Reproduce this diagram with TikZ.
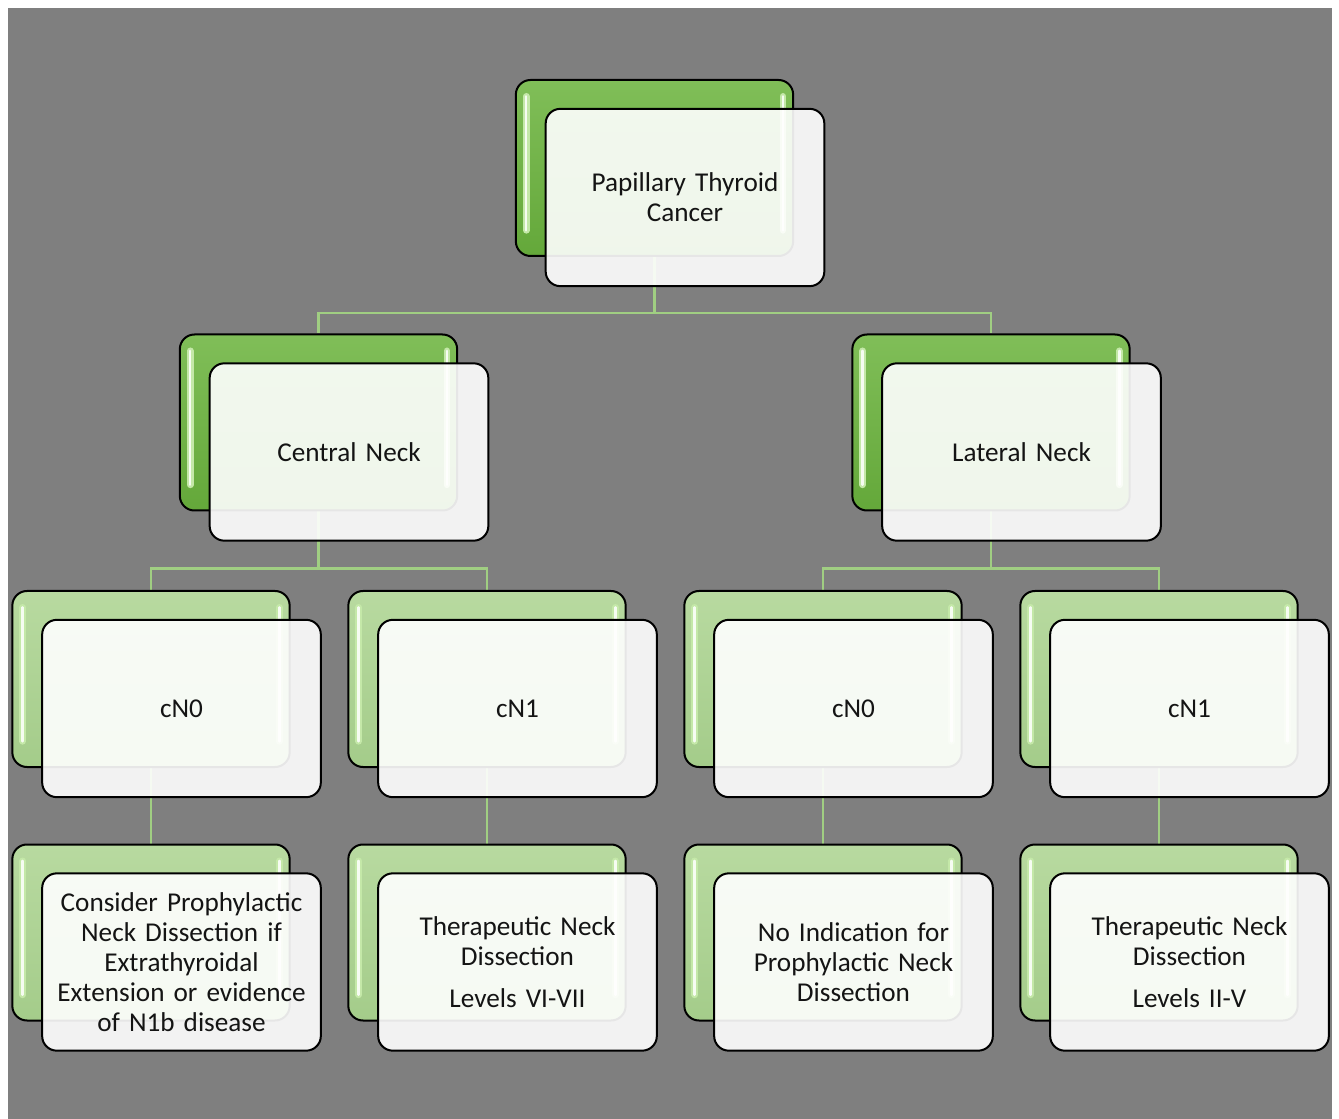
\documentclass[tikz,border=0pt]{standalone}
\usepackage{fontspec}
\setmainfont{Carlito}
\usetikzlibrary{calc}
\definecolor{bgray}{RGB}{127,127,127}
\definecolor{gdark}{RGB}{100,168,58}
\definecolor{gdarktop}{RGB}{128,190,88}
\definecolor{glight}{RGB}{164,204,138}
\definecolor{glighttop}{RGB}{184,218,160}
\definecolor{stripeA}{RGB}{196,232,168}
\definecolor{stripeB}{RGB}{214,238,200}
\definecolor{conn}{RGB}{160,206,130}
\definecolor{txt}{RGB}{20,20,20}
\pgfdeclarelayer{bgzero}
\pgfdeclarelayer{bgone}
\pgfsetlayers{bgzero,bgone,main}
\tikzset{
  backbox/.style={draw=black, line width=1.5pt, rounded corners=11pt,
    minimum width=208pt, minimum height=132pt, inner sep=0pt},
  backA/.style={backbox, top color=gdarktop, bottom color=gdark},
  backB/.style={backbox, top color=glighttop, bottom color=glight},
  stripe/.style={line width=5pt, line cap=round, draw=stripeA},
  stripecore/.style={line width=1.8pt, line cap=round, draw=white!85!stripeA},
  frontbox/.style={draw=black, line width=1.5pt, rounded corners=11pt,
    fill=white, fill opacity=0.9, text opacity=1,
    minimum width=209pt, minimum height=133pt, inner sep=2pt,
    text width=195pt, align=center, text=txt,
    font=\fontsize{20.4}{22.5}\selectfont},
  connector/.style={draw=conn, line width=1.6pt}
}
\newcommand\tcard[5]{%
  \node[#4] (#1b) at (#2,#3) {};
  \draw[stripe] ([xshift=8.5pt,yshift=-13pt]#1b.north west) -- ([xshift=8.5pt,yshift=20pt]#1b.south west);
  \draw[stripecore] ([xshift=8.5pt,yshift=-13pt]#1b.north west) -- ([xshift=8.5pt,yshift=20pt]#1b.south west);
  \draw[stripe] ([xshift=-8.5pt,yshift=-13pt]#1b.north east) -- ([xshift=-8.5pt,yshift=20pt]#1b.south east);
  \draw[stripecore] ([xshift=-8.5pt,yshift=-13pt]#1b.north east) -- ([xshift=-8.5pt,yshift=20pt]#1b.south east);
  \node[frontbox] (#1) at ($(#2,#3)+(30.5,29.5)$) {#5};
}
\begin{document}
\begin{tikzpicture}[x=0.75pt,y=-0.75pt]
\useasboundingbox (0,0) rectangle (1339,1119);
\begin{pgfonlayer}{bgzero}
  \fill[white] (0,0) rectangle (1339,1119);
  \fill[bgray] (8,8) rectangle (1332,1119);
\end{pgfonlayer}
% level 1
\tcard{top}{654.5}{168}{backA}{Papillary Thyroid\\Cancer}
% level 2
\tcard{cen}{318.5}{422.5}{backA}{Central Neck}
\tcard{lat}{991}{422.5}{backA}{Lateral Neck}
% level 3
\tcard{cnA}{151}{679}{backB}{cN0}
\tcard{cnB}{487}{679}{backB}{cN1}
\tcard{lnA}{823}{679}{backB}{cN0}
\tcard{lnB}{1159}{679}{backB}{cN1}
% level 4
\tcard{cnAx}{151}{932.5}{backB}{Consider Prophylactic\\Neck Dissection if\\Extrathyroidal\\Extension or evidence\\of N1b disease}
\tcard{cnBx}{487}{932.5}{backB}{Therapeutic Neck\\Dissection\\[9pt]Levels VI-VII}
\tcard{lnAx}{823}{932.5}{backB}{No Indication for\\Prophylactic Neck\\Dissection}
\tcard{lnBx}{1159}{932.5}{backB}{Therapeutic Neck\\Dissection\\[9pt]Levels II-V}
% connectors
\begin{pgfonlayer}{bgone}
  \draw[connector] (topb.south) -- ++(0,56) -| (cenb.north);
  \draw[connector] (topb.south) -- ++(0,56) -| (latb.north);
  \draw[connector] (cenb.south) -- ++(0,57) -| (cnAb.north);
  \draw[connector] (cenb.south) -- ++(0,57) -| (cnBb.north);
  \draw[connector] (latb.south) -- ++(0,57) -| (lnAb.north);
  \draw[connector] (latb.south) -- ++(0,57) -| (lnBb.north);
  \draw[connector] (cnAb.south) -- (cnAxb.north);
  \draw[connector] (cnBb.south) -- (cnBxb.north);
  \draw[connector] (lnAb.south) -- (lnAxb.north);
  \draw[connector] (lnBb.south) -- (lnBxb.north);
\end{pgfonlayer}
\end{tikzpicture}
\end{document}
